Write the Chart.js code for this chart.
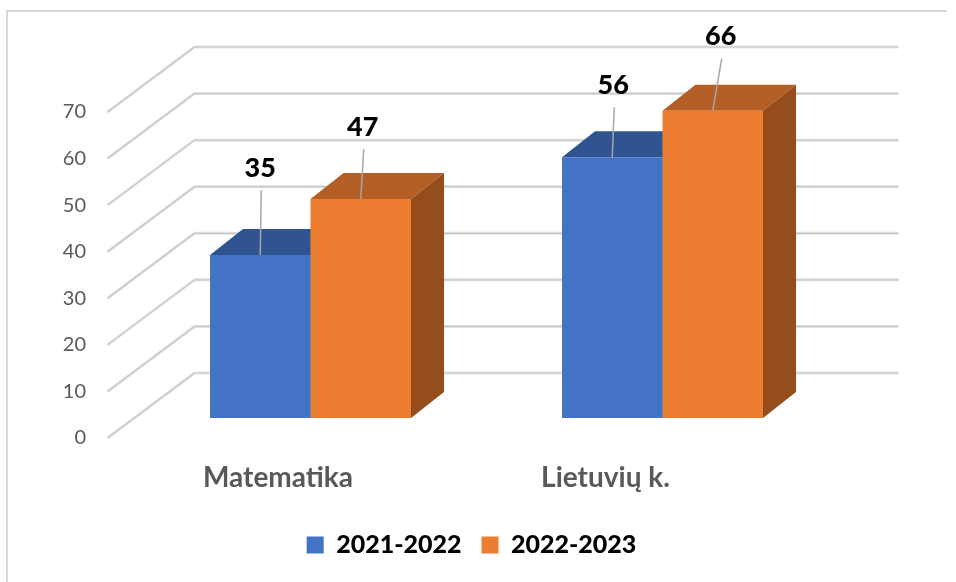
<!DOCTYPE html>
<html>
<head>
<meta charset="utf-8">
<script src="https://cdn.jsdelivr.net/npm/chart.js@4.4.0/dist/chart.umd.min.js"></script>
<style>
  html, body { margin: 0; padding: 0; background: #fff; }
  #wrap { width: 956px; height: 582px; }
</style>
</head>
<body>
<div id="wrap"><canvas id="chart"></canvas></div>
<script>
// Data
const categories = ['Matematika', 'Lietuvių k.'];
const seriesNames = ['2021-2022', '2022-2023'];
const values2122 = [35, 56];
const values2223 = [47, 66];
const yTicks = [0, 10, 20, 30, 40, 50, 60, 70];

// how far each value label sits above its bar (manually placed in the original)
const labelLift = [[87, 72], [72, 74]];
const labelShift = [[0, 1], [2, 8]];

// 3D look: offsets of the side wall front/back and of the bar depth
const wallFront = { dx: -27, dy: 20 };
const wallBack = { dx: 60, dy: -45 };
const barDepth = { dx: 33, dy: -26 };

const fontFamily = 'Lato, "Open Sans", sans-serif';

function poly(ctx, pts, color) {
    ctx.beginPath();
    ctx.moveTo(pts[0][0], pts[0][1]);
    for (let i = 1; i < pts.length; i++) ctx.lineTo(pts[i][0], pts[i][1]);
    ctx.closePath();
    ctx.fillStyle = color;
    ctx.fill();
}

const frame3d = {
    id: 'frame3d',
    beforeDraw(chart) {
        const ctx = chart.ctx;
        ctx.save();
        ctx.strokeStyle = '#d9d9d9';
        ctx.lineWidth = 2;
        ctx.beginPath();
        ctx.moveTo(7, 582);
        ctx.lineTo(7, 11);
        ctx.lineTo(947, 11);
        ctx.stroke();
        ctx.restore();
    },
    beforeDatasetsDraw(chart) {
        const { ctx, chartArea: a, scales: { y } } = chart;
        ctx.save();
        // wall grid lines
        y.ticks.forEach(t => {
            const py = y.getPixelForValue(t.value);
            ctx.beginPath();
            ctx.moveTo(a.left + wallFront.dx, py + wallFront.dy);
            ctx.lineTo(a.left + wallBack.dx, py + wallBack.dy);
            ctx.lineTo(a.right + wallBack.dx, py + wallBack.dy);
            ctx.lineJoin = 'round';
            ctx.lineWidth = 3;
            ctx.strokeStyle = '#e4e4e4';
            ctx.stroke();
            ctx.lineWidth = 1.2;
            ctx.strokeStyle = '#c6c6c6';
            ctx.stroke();
        });
        // top and side faces of the bars
        chart.data.datasets.forEach((ds, i) => {
            chart.getDatasetMeta(i).data.forEach(bar => {
                const { x, y: top, base, width } = bar.getProps(['x', 'y', 'base', 'width'], true);
                const l = x - width / 2, r = x + width / 2;
                poly(ctx, [[l, top], [r, top], [r + barDepth.dx, top + barDepth.dy], [l + barDepth.dx, top + barDepth.dy]], ds.topColor);
                poly(ctx, [[r, top], [r + barDepth.dx, top + barDepth.dy], [r + barDepth.dx, base + barDepth.dy], [r, base]], ds.sideColor);
            });
        });
        ctx.restore();
    },
    afterDatasetsDraw(chart) {
        const ctx = chart.ctx;
        ctx.save();
        ctx.font = '900 27px ' + fontFamily;
        ctx.textAlign = 'center';
        ctx.textBaseline = 'middle';
        chart.data.datasets.forEach((ds, i) => {
            chart.getDatasetMeta(i).data.forEach((bar, j) => {
                const { x, y: top } = bar.getProps(['x', 'y'], true);
                const lx = x + labelShift[i][j];
                const ly = top - labelLift[i][j];
                ctx.strokeStyle = '#a6a6a6';
                ctx.lineWidth = 1.5;
                ctx.beginPath();
                ctx.moveTo(lx + 1, ly + 22);
                ctx.lineTo(x, top);
                ctx.stroke();
                ctx.fillStyle = '#000';
                ctx.fillText(String(ds.data[j]), lx, ly);
            });
        });
        ctx.restore();
    }
};

const ctx = document.getElementById('chart').getContext('2d');
new Chart(ctx, {
    type: 'bar',
    data: {
        labels: categories,
        datasets: [{
            label: seriesNames[0],
            data: values2122,
            backgroundColor: '#4472C4',
            topColor: '#30548f',
            sideColor: '#2a4a80',
            categoryPercentage: 0.571,
            barPercentage: 1.0
        }, {
            label: seriesNames[1],
            data: values2223,
            backgroundColor: '#ED7D31',
            topColor: '#b35e24',
            sideColor: '#964d1c',
            categoryPercentage: 0.571,
            barPercentage: 1.0
        }]
    },
    options: {
        responsive: true,
        maintainAspectRatio: false,
        animation: false,
        layout: { padding: { top: 92, left: 59.5, right: 72.5, bottom: 14.5 } },
        scales: {
            x: { display: false },
            x2: {
                type: 'linear',
                axis: 'x',
                position: 'bottom',
                offset: false,
                min: -0.4382,
                max: 1.7114,
                bounds: 'data',
                afterBuildTicks(scale) {
                    scale.ticks = categories.map((c, i) => ({ value: i }));
                },
                afterFit(scale) { scale.height = 94.5; },
                ticks: {
                    autoSkip: false,
                    maxRotation: 0,
                    padding: 43,
                    color: '#595959',
                    font: { family: fontFamily, size: 28, weight: 'bold' },
                    callback: v => categories[v]
                },
                grid: { display: false, drawTicks: false },
                border: { display: false }
            },
            y: {
                min: 0,
                max: 70,
                afterBuildTicks(scale) {
                    scale.ticks = yTicks.map(v => ({ value: v }));
                },
                afterFit(scale) { scale.width = 75; },
                ticks: {
                    padding: 48.5,
                    labelOffset: 20,
                    color: '#595959',
                    font: { family: fontFamily, size: 20 }
                },
                grid: { display: false, drawTicks: false },
                border: { display: false }
            },
            // empty right-hand strip, keeps the legend centred like the original
            yRight: {
                type: 'linear',
                axis: 'y',
                position: 'right',
                min: 0,
                max: 70,
                afterFit(scale) { scale.width = 45; },
                ticks: { display: false },
                grid: { display: false, drawTicks: false },
                border: { display: false }
            }
        },
        plugins: {
            legend: {
                position: 'bottom',
                labels: {
                    boxWidth: 17,
                    boxHeight: 17,
                    padding: 20,
                    color: '#000',
                    font: { family: fontFamily, size: 25, weight: '900' }
                }
            },
            tooltip: { enabled: false }
        }
    },
    plugins: [frame3d]
});
</script>
</body>
</html>
